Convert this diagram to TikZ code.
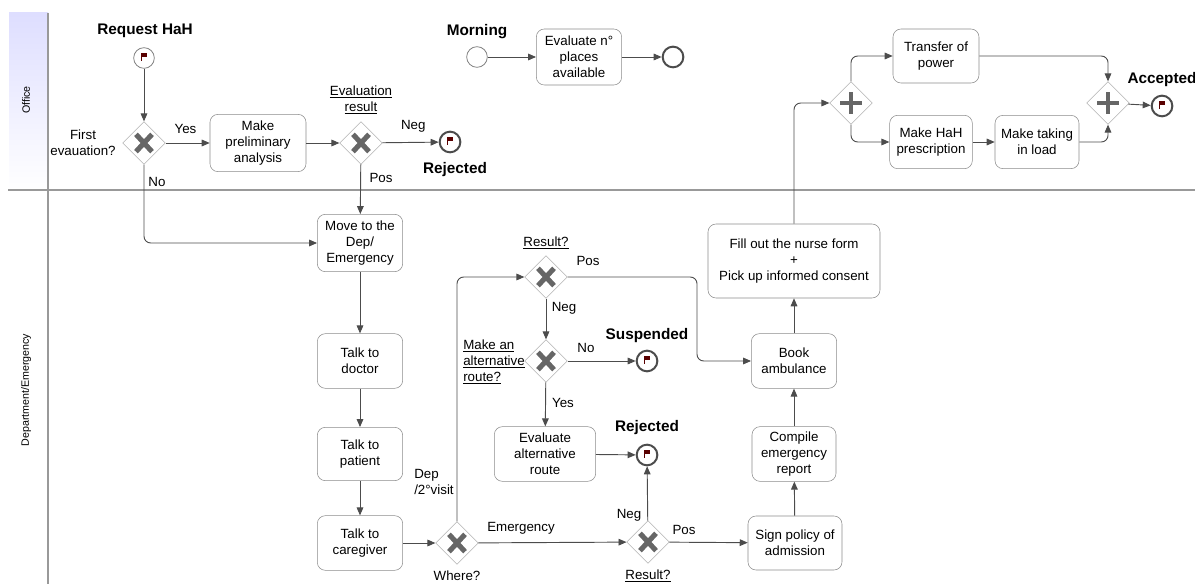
\documentclass[tikz,border=0pt]{standalone}
\usepackage{fontspec}
\setmainfont{Liberation Sans}
\usetikzlibrary{shapes.geometric,arrows.meta}

\tikzset{
  task/.style={draw=black!45, fill=white, rounded corners=6pt, align=center,
    inner sep=2pt, minimum width=64pt, minimum height=41pt,
    font=\fontsize{10}{12}\selectfont},
  gwbase/.style={diamond, draw=black!30, fill=white, minimum size=32pt, inner sep=0pt},
  gwx/.style={gwbase, path picture={
    \draw[black!60, line width=3.8pt]
      ([shift={(-6pt,-6.5pt)}]path picture bounding box.center) -- ++(12pt,13pt)
      ([shift={(-6pt,6.5pt)}]path picture bounding box.center) -- ++(12pt,-13pt);}},
  gwplus/.style={gwbase, path picture={
    \draw[black!60, line width=3.6pt]
      ([xshift=-8pt]path picture bounding box.center) -- ++(16pt,0)
      ([yshift=-8pt]path picture bounding box.center) -- ++(0,16pt);}},
  startev/.style={circle, draw=black!50, fill=white, minimum size=15.5pt, inner sep=0pt, line width=0.6pt},
  endev/.style={circle, draw=black!70, fill=white, minimum size=15.5pt, inner sep=0pt, line width=1.5pt},
  flagged/.style={path picture={
    \fill[red!35!black] ([shift={(-2pt,1pt)}]path picture bounding box.center) rectangle ++(4pt,3pt);
    \draw[red!35!black, line width=0.5pt] ([shift={(-2pt,-2pt)}]path picture bounding box.center) -- ++(0,6pt);}},
  flow/.style={draw=black!70, line width=0.7pt, -{Triangle[length=6pt,width=5pt]}, rounded corners=5pt},
  lbl/.style={font=\fontsize{10}{12}\selectfont, align=center, inner sep=0pt},
  evlbl/.style={font=\fontsize{11.5}{13}\selectfont\bfseries, inner sep=0pt}
}

\begin{document}
\begin{tikzpicture}[x=0.75pt,y=-0.75pt]

\def\LANELINE{black!40}
\def\LANETOP{blue!13}
\useasboundingbox (0,0) rectangle (1195,584);

% lanes
\shade[top color=\LANETOP, bottom color=white] (9,13) rectangle (48,190);
\draw[\LANELINE, line width=1.5pt] (48,13) -- (48,584);
\draw[\LANELINE, line width=1.5pt] (8,190) -- (1195,190);
\node[rotate=90, font=\fontsize{8}{9}\selectfont] (office) at (26,100) {Office};
\node[rotate=90, font=\fontsize{8}{9}\selectfont] (dept) at (26,390) {Department/Emergency};

% office
\node[startev, flagged] (req) at (144,58) {};
\node[evlbl] (reqlbl) at (145,31) {Request HaH};
\node[gwx] (first) at (144,143) {};
\node[lbl] (firstlbl) at (83,143) {First\\evauation?};
\node[task, minimum width=72pt, minimum height=43pt] (prelim) at (258,143) {Make\\preliminary\\analysis};
\node[gwx] (evres) at (361,143) {};
\node[lbl] (evreslbl) at (361,100) {\underline{Evaluation}\\\underline{result}};
\node[endev, flagged] (rej) at (450,142) {};
\node[evlbl] (rejlbl) at (455,170) {Rejected};

\node[startev] (morning) at (477,57) {};
\node[evlbl] (morninglbl) at (477,32) {Morning};
\node[task, minimum height=42pt] (places) at (579,57) {Evaluate n°\\places\\available};
\node[endev] (placesend) at (673,57) {};

\node[gwplus] (split) at (851,103) {};
\node[task, minimum width=64.5pt, minimum height=40.5pt] (power) at (936,56) {Transfer of\\power};
\node[task, minimum width=62pt, minimum height=40pt] (prescr) at (931,142) {Make HaH\\prescription};
\node[task, minimum width=63pt, minimum height=40pt] (load) at (1037,142) {Make taking\\in load};
\node[gwplus] (join) at (1108,103) {};
\node[endev, flagged] (acc) at (1162,106) {};
\node[evlbl] (acclbl) at (1162,80) {Accepted};

% department / emergency
\node[task, minimum height=43pt] (move) at (360,243) {Move to the\\Dep/\\Emergency};
\node[task] (doctor) at (360,361) {Talk to\\doctor};
\node[task, minimum height=40pt] (patient) at (360,454) {Talk to\\patient};
\node[task] (caregiver) at (360,543) {Talk to\\caregiver};
\node[gwx] (where) at (457,543) {};
\node[lbl] (wherelbl) at (457,576) {Where?};
\node[lbl, align=left, anchor=west] (deplbl) at (414,482) {Dep\\/2°visit};

\node[gwx] (res) at (546,277) {};
\node[lbl] (reslbl) at (546,243) {\underline{Result?}};
\node[gwx] (alt) at (546,361) {};
\node[lbl, align=left, anchor=west] (altlbl) at (463,362) {\underline{Make an}\\\underline{alternative}\\\underline{route?}};
\node[endev, flagged] (susp) at (647,361) {};
\node[evlbl] (susplbl) at (647,336) {Suspended};
\node[task, minimum width=76pt] (evalalt) at (545,454) {Evaluate\\alternative\\route};
\node[endev, flagged] (rejtwo) at (647,455) {};
\node[evlbl] (rejtwolbl) at (647,428) {Rejected};
\node[gwx] (emres) at (648,542) {};
\node[lbl] (emreslbl) at (648,576) {\underline{Result?}};

\node[task, minimum width=70.5pt, minimum height=40.5pt] (sign) at (795,543) {Sign policy of\\admission};
\node[task, minimum width=63pt] (report) at (794,454) {Compile\\emergency\\report};
\node[task] (book) at (794,361) {Book\\ambulance};
\node[task, minimum width=129pt, minimum height=55.5pt] (nurse) at (794,261) {Fill out the nurse form\\+\\Pick up informed consent};

\coordinate (bend) at (697,320);
\coordinate (up) at (794,150);

% flows
\draw[flow] (req) -- (first);
\draw[flow] (first) -- (prelim) node[lbl, pos=0.45, above=7pt] (yes) {Yes};
\draw[flow] (prelim) -- (evres);
\draw[flow] (evres) -- (rej) node[lbl, pos=0.55, above=7pt] (neg) {Neg};
\draw[flow] (evres) -- (move);
\node[lbl] (pos) at (381,178) {Pos};
\draw[flow] (first.south) |- (move.west);
\node[lbl] (no) at (157,182) {No};
\draw[flow] (morning) -- (places);
\draw[flow] (places) -- (placesend);

\draw[flow] (move) -- (doctor);
\draw[flow] (doctor) -- (patient);
\draw[flow] (patient) -- (caregiver);
\draw[flow] (caregiver) -- (where);
\draw[flow] (where.north) |- (res.west);
\draw[flow] (where) -- (emres);
\node[lbl] (emerg) at (521,528) {Emergency};
\draw[flow] (res.east) -| (bend) |- (book.west);
\node[lbl] (respos) at (588,261) {Pos};
\draw[flow] (res) -- (alt);
\node[lbl] (resneg) at (564,308) {Neg};
\draw[flow] (alt) -- (susp);
\node[lbl] (altno) at (586,348) {No};
\draw[flow] (alt) -- (evalalt);
\node[lbl] (altyes) at (563,403) {Yes};
\draw[flow] (evalalt) -- (rejtwo);
\draw[flow] (emres) -- (rejtwo);
\node[lbl] (emneg) at (629,515) {Neg};
\draw[flow] (emres) -- (sign);
\node[lbl] (empos) at (684,530) {Pos};

\draw[flow] (sign) -- (report);
\draw[flow] (report) -- (book);
\draw[flow] (book) -- (nurse);
\draw[flow] (nurse.north) -- (up) |- (split.west);
\draw[flow] (split.north) |- (power.west);
\draw[flow] (split.south) |- (prescr.west);
\draw[flow] (prescr) -- (load);
\draw[flow] (power.east) -| (join.north);
\draw[flow] (load.east) -| (join.south);
\draw[flow] (join) -- (acc);

\end{tikzpicture}
\end{document}
